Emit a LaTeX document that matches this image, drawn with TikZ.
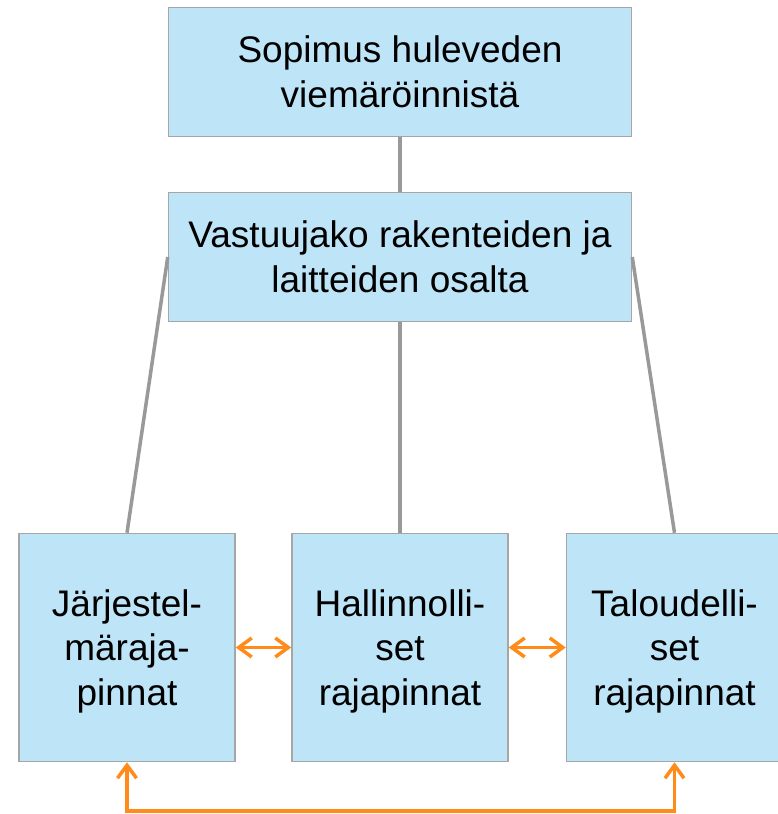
\documentclass[tikz,border=0pt]{standalone}
\usepackage{fontspec}
\setmainfont{Liberation Sans}
\usetikzlibrary{arrows.meta}
\definecolor{boxfill}{RGB}{189,228,247}
\definecolor{boxline}{RGB}{166,166,166}
\definecolor{conn}{RGB}{153,153,153}
\definecolor{orangeconn}{RGB}{255,140,26}
\begin{document}
\begin{tikzpicture}[x=1pt,y=-1pt,
  box/.style={draw=boxline, line width=1.5pt, fill=boxfill, inner sep=0pt, align=center, font=\fontsize{37}{44.5}\selectfont},
  topbox/.style={box, minimum width=463pt, minimum height=129pt},
  lowbox/.style={box, minimum width=216pt, minimum height=228pt, text depth=-2pt},
  link/.style={draw=conn, line width=3.5pt},
  oarrow/.style={draw=orangeconn, line width=3.5pt, {Straight Barb[length=13pt,width=19pt,line width=3.5pt]}-{Straight Barb[length=13pt,width=19pt,line width=3.5pt]}}]
\useasboundingbox (0,0) rectangle (778,814);
\clip (0,0) rectangle (778,814);
\node[topbox] (S) at (400,72) {Sopimus huleveden\\viemäröinnistä};
\node[topbox] (V) at (400,257) {Vastuujako rakenteiden ja\\laitteiden osalta};
\node[lowbox] (L) at (127,647.5) {Järjestel-\\märaja-\\pinnat};
\node[lowbox] (M) at (400,647.5) {Hallinnolli-\\set\\rajapinnat};
\node[lowbox] (R) at (674.5,647.5) {Taloudelli-\\set\\rajapinnat};
\coordinate (b) at (0,811);
\draw[link] (S.south) -- (V.north);
\draw[link] (V.south) -- (M.north);
\draw[link] (V.west) -- (L.north);
\draw[link] (V.east) -- (R.north);
\draw[oarrow] (L.east) -- (M.west);
\draw[oarrow] (M.east) -- (R.west);
\draw[oarrow] (L.south) -- (L.south |- b) -| (R.south);
\end{tikzpicture}
\end{document}
